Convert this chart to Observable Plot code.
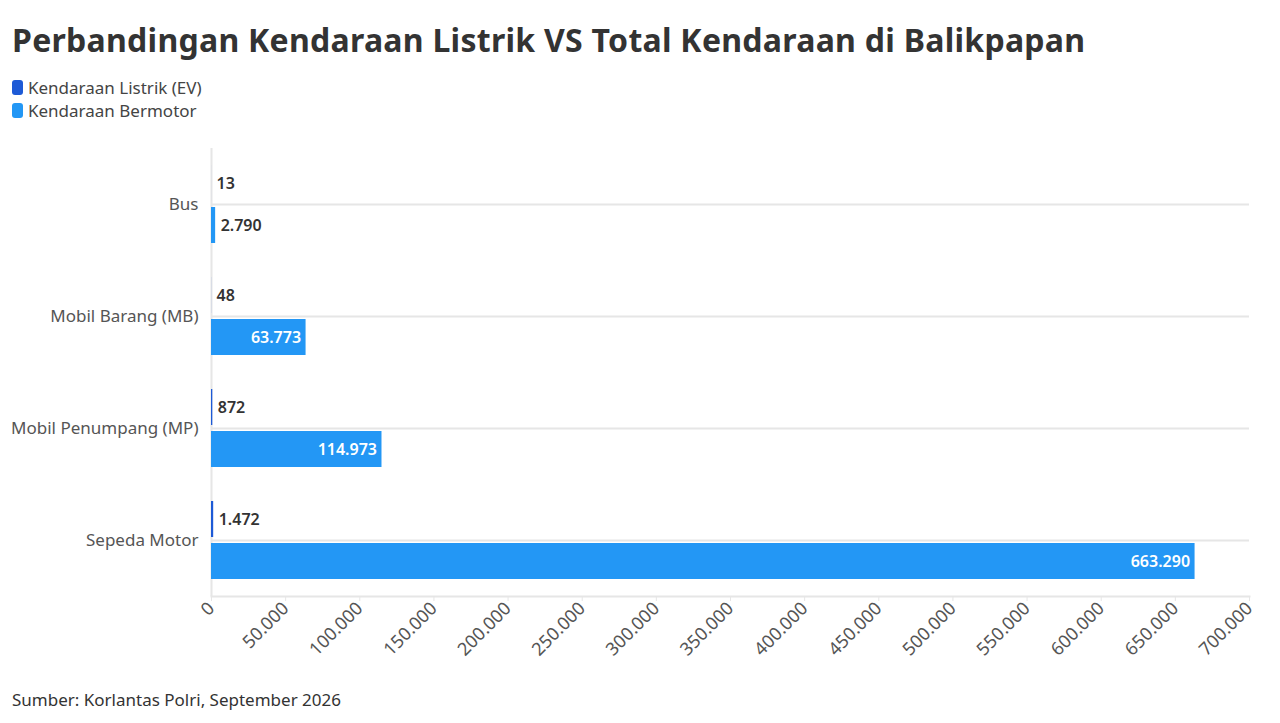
<!DOCTYPE html>
<html>
<head>
<meta charset="utf-8">
<script src="https://cdn.jsdelivr.net/npm/d3@7"></script>
<script src="https://cdn.jsdelivr.net/npm/@observablehq/plot@0.6"></script>
<style>
  html, body { margin: 0; padding: 0; background: #fff; }
  body { width: 1280px; height: 723px; overflow: hidden; font-family: "Noto Sans", "Open Sans", sans-serif; color: #333; }
  #header { position: relative; height: 130px; }
  #title { position: absolute; left: 12px; top: 18px; font-size: 32px; font-weight: 700; color: #333; letter-spacing: 0.27px; white-space: nowrap; }
  #legend { position: absolute; left: 12px; top: 76px; font-size: 17px; color: #444; }
  .item { display: flex; align-items: center; height: 23px; }
  .sw { width: 11px; height: 15px; border-radius: 3px; margin-right: 5px; }
  #caption { font-size: 17px; color: #333; padding-left: 12px; margin-top: 9px; line-height: 22px; }
  svg text { font-family: "Noto Sans", "Open Sans", sans-serif; }
</style>
</head>
<body>
<div id="header">
  <div id="title"></div>
  <div id="legend"></div>
</div>
<div id="chart"></div>
<div id="caption"></div>
<script>
const titleText = "Perbandingan Kendaraan Listrik VS Total Kendaraan di Balikpapan";
const captionText = "Sumber: Korlantas Polri, September 2026";
const categories = ["Bus", "Mobil Barang (MB)", "Mobil Penumpang (MP)", "Sepeda Motor"];
const seriesNames = ["Kendaraan Listrik (EV)", "Kendaraan Bermotor"];
const seriesColors = ["#1d5ad6", "#2397f5"];
const evValues = [13, 48, 872, 1472];
const motorValues = [2790, 63773, 114973, 663290];
const xTicks = [0, 50000, 100000, 150000, 200000, 250000, 300000, 350000, 400000, 450000, 500000, 550000, 600000, 650000, 700000];

const idLocale = d3.formatLocale({decimal: ",", thousands: ".", grouping: [3], currency: ["Rp", ""]});
const fmt = idLocale.format(",d");

document.getElementById("title").textContent = titleText;
document.getElementById("caption").textContent = captionText;
const legend = document.getElementById("legend");
seriesNames.forEach((n, i) => {
  const it = document.createElement("div");
  it.className = "item";
  const sw = document.createElement("span");
  sw.className = "sw";
  sw.style.background = seriesColors[i];
  const t = document.createElement("span");
  t.textContent = n;
  it.appendChild(sw); it.appendChild(t);
  legend.appendChild(it);
});

const ev = categories.map((c, i) => ({category: c, value: evValues[i]}));
const motor = categories.map((c, i) => ({category: c, value: motorValues[i]}));
const insideThreshold = 40000;

const chart = Plot.plot({
  width: 1280,
  height: 550,
  marginTop: 18,
  marginBottom: 84,
  marginLeft: 211,
  marginRight: 31,
  style: {fontSize: "16px", color: "#555", background: "#fff"},
  x: {domain: [0, 700000]},
  y: {domain: categories, padding: 0},
  marks: [
    Plot.gridY({stroke: "#e6e6e6", strokeOpacity: 1, strokeWidth: 2}),
    Plot.ruleX([0], {stroke: "#e6e6e6", strokeWidth: 2}),
    Plot.frame({anchor: "bottom", stroke: "#e6e6e6", strokeWidth: 2}),
    Plot.axisY({tickSize: 0, tickPadding: 13, label: null, fill: "#555", fontSize: 17}),
    Plot.axisX({ticks: xTicks, tickFormat: fmt, tickRotate: -45, tickSize: 5, tickPadding: 4, stroke: "#e6e6e6", label: null, fill: "#555", fontSize: 18}),
    Plot.barX(ev, {x: "value", y: "category", fill: seriesColors[0], insetTop: 17, insetBottom: 59}),
    Plot.barX(motor, {x: "value", y: "category", fill: seriesColors[1], insetTop: 59, insetBottom: 17}),
    Plot.text(ev, {x: "value", y: "category", text: d => fmt(d.value), dy: -21, dx: 5, textAnchor: "start", fill: "#333", fontWeight: 600, fontSize: 16}),
    Plot.text(motor.filter(d => d.value < insideThreshold), {x: "value", y: "category", text: d => fmt(d.value), dy: 21, dx: 5, textAnchor: "start", fill: "#333", fontWeight: 600, fontSize: 16}),
    Plot.text(motor.filter(d => d.value >= insideThreshold), {x: "value", y: "category", text: d => fmt(d.value), dy: 21, dx: -5, textAnchor: "end", fill: "#fff", fontWeight: 600, fontSize: 16})
  ]
});
document.getElementById("chart").appendChild(chart);
</script>
</body>
</html>
